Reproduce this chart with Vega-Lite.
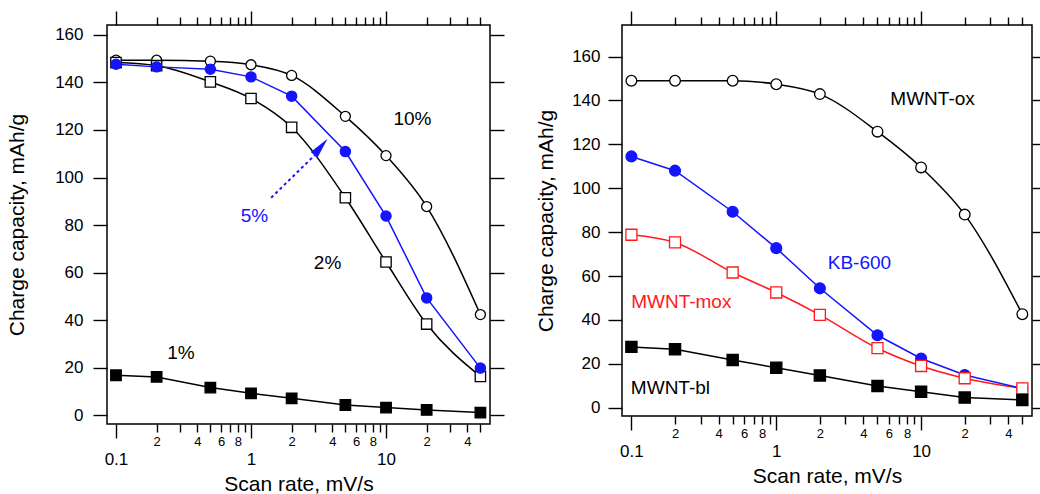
{
  "$schema": "https://vega.github.io/schema/vega-lite/v6.json",
  "background": "white",
  "padding": {"left": 5, "top": 9, "right": 5, "bottom": 5},
  "spacing": 132,
  "bounds": "flush",
  "config": {
    "font": "Liberation Sans",
    "view": {"stroke": "black", "strokeWidth": 1.5},
    "axis": {
      "grid": false, "domain": false, "tickColor": "black", "tickWidth": 1.4,
      "labelColor": "black", "titleColor": "black", "labelFont": "Liberation Sans",
      "titleFont": "Liberation Sans", "titleFontWeight": "normal", "labelFontSize": 17,
      "titleFontSize": 21, "labelOverlap": false, "labelFlush": false, "labelBound": false
    }
  },
  "datasets": {
    "left": [
      {"series": "10%", "x": 0.1, "y": 149.3}, {"series": "10%", "x": 0.2, "y": 149.3}, {"series": "10%", "x": 0.5, "y": 148.9},
      {"series": "10%", "x": 1, "y": 147.4}, {"series": "10%", "x": 2, "y": 142.9}, {"series": "10%", "x": 5, "y": 125.7},
      {"series": "10%", "x": 10, "y": 109.2}, {"series": "10%", "x": 20, "y": 87.8}, {"series": "10%", "x": 50, "y": 42.4},
      {"series": "2%", "x": 0.1, "y": 148.3}, {"series": "2%", "x": 0.2, "y": 147.0}, {"series": "2%", "x": 0.5, "y": 140.2},
      {"series": "2%", "x": 1, "y": 133.2}, {"series": "2%", "x": 2, "y": 121.1}, {"series": "2%", "x": 5, "y": 91.5},
      {"series": "2%", "x": 10, "y": 64.5}, {"series": "2%", "x": 20, "y": 38.4}, {"series": "2%", "x": 50, "y": 16.4},
      {"series": "5%", "x": 0.1, "y": 147.6}, {"series": "5%", "x": 0.2, "y": 146.5}, {"series": "5%", "x": 0.5, "y": 145.5},
      {"series": "5%", "x": 1, "y": 142.3}, {"series": "5%", "x": 2, "y": 134.2}, {"series": "5%", "x": 5, "y": 110.9},
      {"series": "5%", "x": 10, "y": 83.8}, {"series": "5%", "x": 20, "y": 49.4}, {"series": "5%", "x": 50, "y": 19.9},
      {"series": "1%", "x": 0.1, "y": 16.9}, {"series": "1%", "x": 0.2, "y": 16.2}, {"series": "1%", "x": 0.5, "y": 11.7},
      {"series": "1%", "x": 1, "y": 9.3}, {"series": "1%", "x": 2, "y": 7.2}, {"series": "1%", "x": 5, "y": 4.4},
      {"series": "1%", "x": 10, "y": 3.3}, {"series": "1%", "x": 20, "y": 2.3}, {"series": "1%", "x": 50, "y": 1.2}
    ],
    "right": [
      {"series": "MWNT-ox", "x": 0.1, "y": 149.0}, {"series": "MWNT-ox", "x": 0.2, "y": 149.0}, {"series": "MWNT-ox", "x": 0.5, "y": 149.0},
      {"series": "MWNT-ox", "x": 1, "y": 147.4}, {"series": "MWNT-ox", "x": 2, "y": 142.9}, {"series": "MWNT-ox", "x": 5, "y": 125.8},
      {"series": "MWNT-ox", "x": 10, "y": 109.5}, {"series": "MWNT-ox", "x": 20, "y": 88.0}, {"series": "MWNT-ox", "x": 50, "y": 42.6},
      {"series": "KB-600", "x": 0.1, "y": 114.5}, {"series": "KB-600", "x": 0.2, "y": 108.0}, {"series": "KB-600", "x": 0.5, "y": 89.3},
      {"series": "KB-600", "x": 1, "y": 72.7}, {"series": "KB-600", "x": 2, "y": 54.4}, {"series": "KB-600", "x": 5, "y": 33.0},
      {"series": "KB-600", "x": 10, "y": 22.4}, {"series": "KB-600", "x": 20, "y": 14.9}, {"series": "KB-600", "x": 50, "y": 8.7},
      {"series": "MWNT-mox", "x": 0.1, "y": 78.8}, {"series": "MWNT-mox", "x": 0.2, "y": 75.3}, {"series": "MWNT-mox", "x": 0.5, "y": 61.6},
      {"series": "MWNT-mox", "x": 1, "y": 52.5}, {"series": "MWNT-mox", "x": 2, "y": 42.3}, {"series": "MWNT-mox", "x": 5, "y": 27.1},
      {"series": "MWNT-mox", "x": 10, "y": 19.0}, {"series": "MWNT-mox", "x": 20, "y": 13.4}, {"series": "MWNT-mox", "x": 50, "y": 8.8},
      {"series": "MWNT-bl", "x": 0.1, "y": 27.7}, {"series": "MWNT-bl", "x": 0.2, "y": 26.6}, {"series": "MWNT-bl", "x": 0.5, "y": 21.7},
      {"series": "MWNT-bl", "x": 1, "y": 18.2}, {"series": "MWNT-bl", "x": 2, "y": 14.7}, {"series": "MWNT-bl", "x": 5, "y": 9.9},
      {"series": "MWNT-bl", "x": 10, "y": 7.2}, {"series": "MWNT-bl", "x": 20, "y": 4.6}, {"series": "MWNT-bl", "x": 50, "y": 3.5}
    ],
    "leftLabels": [
      {"series": "10%", "label": "10%", "x": 15.7, "y": 124.8},
      {"series": "5%", "label": "5%", "x": 1.06, "y": 83.9},
      {"series": "2%", "label": "2%", "x": 3.69, "y": 64.1},
      {"series": "1%", "label": "1%", "x": 0.303, "y": 26.2}
    ],
    "rightLabels": [
      {"series": "MWNT-ox", "label": "MWNT-ox", "x": 12.0, "y": 140.6},
      {"series": "KB-600", "label": "KB-600", "x": 3.75, "y": 66.1},
      {"series": "MWNT-mox", "label": "MWNT-mox", "x": 0.221, "y": 48.2},
      {"series": "MWNT-bl", "label": "MWNT-bl", "x": 0.186, "y": 9.1}
    ],
    "arrow": [
      {"x": 1.41, "y": 91.5, "x2": 2.99, "y2": 109.6, "hx": 3.69, "hy": 116.3}
    ]
  },
  "hconcat": [
    {
      "width": 383,
      "height": 399,
      "resolve": {"axis": {"x": "independent", "y": "independent"}},
      "layer": [
        {
          "data": {"name": "left"},
          "transform": [{"filter": "datum.series == '10%' || datum.series == '2%'"}],
          "mark": {"type": "line", "interpolate": "monotone", "strokeWidth": 1.5},
          "encoding": {
            "x": {"field": "x", "type": "quantitative", "scale": {"type": "log", "domain": [0.0858, 58.9], "nice": false},
              "axis": {"orient": "bottom", "values": [0.1, 1, 10], "format": "~g", "tickSize": 14, "labelPadding": 13, "title": "Scan rate, mV/s", "titlePadding": 6}},
            "y": {"field": "y", "type": "quantitative", "scale": {"domain": [-3.6, 164.1], "nice": false, "zero": false},
              "axis": {"orient": "left", "values": [0, 20, 40, 60, 80, 100, 120, 140, 160], "tickSize": 14, "labelPadding": 10, "title": "Charge capacity, mAh/g", "titlePadding": 27}},
            "color": {"field": "series", "type": "nominal", "legend": null,
              "scale": {"domain": ["10%", "5%", "2%", "1%", "MWNT-ox", "KB-600", "MWNT-mox", "MWNT-bl"],
                "range": ["black", "#1414ff", "black", "black", "black", "#1414ff", "#ff1a1a", "black"]}}
          }
        },
        {
          "data": {"name": "left"},
          "transform": [{"filter": "datum.series == '5%' || datum.series == '1%'"}],
          "mark": {"type": "line", "strokeWidth": 1.5},
          "encoding": {
            "x": {"field": "x", "type": "quantitative", "scale": {"type": "log", "domain": [0.0858, 58.9], "nice": false}, "axis": null},
            "y": {"field": "y", "type": "quantitative", "scale": {"domain": [-3.6, 164.1], "nice": false, "zero": false}, "axis": null},
            "color": {"field": "series", "type": "nominal", "legend": null,
              "scale": {"domain": ["10%", "5%", "2%", "1%", "MWNT-ox", "KB-600", "MWNT-mox", "MWNT-bl"],
                "range": ["black", "#1414ff", "black", "black", "black", "#1414ff", "#ff1a1a", "black"]}}
          }
        },
        {
          "data": {"name": "left"},
          "mark": {"type": "point", "opacity": 1, "strokeWidth": 1.3},
          "encoding": {
            "x": {"field": "x", "type": "quantitative", "scale": {"type": "log", "domain": [0.0858, 58.9], "nice": false},
              "axis": {"orient": "bottom", "values": [0.2, 0.3, 0.4, 0.5, 0.6, 0.7, 0.8, 0.9, 2, 3, 4, 5, 6, 7, 8, 9, 20, 30, 40, 50], "tickSize": 8, "labelPadding": 3, "labelFontSize": 13, "title": null,
                "labelExpr": "indexof([0.2,2,20],datum.value)>=0?'2':indexof([0.4,4,40],datum.value)>=0?'4':indexof([0.6,6],datum.value)>=0?'6':indexof([0.8,8],datum.value)>=0?'8':''"}},
            "y": {"field": "y", "type": "quantitative", "scale": {"domain": [-3.6, 164.1], "nice": false, "zero": false},
              "axis": {"orient": "right", "values": [0, 20, 40, 60, 80, 100, 120, 140, 160], "tickSize": 14, "labels": false, "title": null}},
            "shape": {"field": "series", "type": "nominal", "legend": null,
              "scale": {"domain": ["10%", "5%", "2%", "1%", "MWNT-ox", "KB-600", "MWNT-mox", "MWNT-bl"],
                "range": ["circle", "circle", "square", "square", "circle", "circle", "square", "square"]}},
            "stroke": {"field": "series", "type": "nominal", "legend": null,
              "scale": {"domain": ["10%", "5%", "2%", "1%", "MWNT-ox", "KB-600", "MWNT-mox", "MWNT-bl"],
                "range": ["black", "#1414ff", "black", "black", "black", "#1414ff", "#ff1a1a", "black"]}},
            "fill": {"field": "series", "type": "nominal", "legend": null,
              "scale": {"domain": ["10%", "5%", "2%", "1%", "MWNT-ox", "KB-600", "MWNT-mox", "MWNT-bl"],
                "range": ["white", "#1414ff", "white", "black", "white", "#1414ff", "white", "black"]}},
            "size": {"field": "series", "type": "nominal", "legend": null,
              "scale": {"domain": ["10%", "5%", "2%", "1%", "MWNT-ox", "KB-600", "MWNT-mox", "MWNT-bl"],
                "range": [100, 125, 100, 144, 100, 125, 100, 144]}}
          }
        },
        {
          "data": {"name": "leftLabels"},
          "mark": {"type": "text", "fontSize": 19, "font": "Liberation Sans"},
          "encoding": {
            "x": {"field": "x", "type": "quantitative", "scale": {"type": "log", "domain": [0.0858, 58.9], "nice": false},
              "axis": {"orient": "top", "values": [0.1, 1, 10], "tickSize": 14, "labels": false, "title": null}},
            "y": {"field": "y", "type": "quantitative", "scale": {"domain": [-3.6, 164.1], "nice": false, "zero": false}, "axis": null},
            "text": {"field": "label", "type": "nominal"},
            "color": {"field": "series", "type": "nominal", "legend": null,
              "scale": {"domain": ["10%", "5%", "2%", "1%", "MWNT-ox", "KB-600", "MWNT-mox", "MWNT-bl"],
                "range": ["black", "#1414ff", "black", "black", "black", "#1414ff", "#ff1a1a", "black"]}}
          }
        },
        {
          "data": {"name": "arrow"},
          "mark": {"type": "rule", "color": "#1414ff", "strokeWidth": 2, "strokeDash": [3, 3]},
          "encoding": {
            "x": {"field": "x", "type": "quantitative", "scale": {"type": "log", "domain": [0.0858, 58.9], "nice": false},
              "axis": {"orient": "top", "values": [0.2, 0.3, 0.4, 0.5, 0.6, 0.7, 0.8, 0.9, 2, 3, 4, 5, 6, 7, 8, 9, 20, 30, 40, 50], "tickSize": 8, "labels": false, "title": null}},
            "y": {"field": "y", "type": "quantitative", "scale": {"domain": [-3.6, 164.1], "nice": false, "zero": false}, "axis": null},
            "x2": {"field": "x2"},
            "y2": {"field": "y2"}
          }
        },
        {
          "data": {"name": "arrow"},
          "mark": {"type": "point", "shape": "M0,0L0.22,1.05L-0.22,1.05Z", "angle": 40, "size": 1600, "filled": true, "opacity": 1, "color": "#1414ff", "strokeWidth": 0},
          "encoding": {
            "x": {"field": "hx", "type": "quantitative", "scale": {"type": "log", "domain": [0.0858, 58.9], "nice": false}, "axis": null},
            "y": {"field": "hy", "type": "quantitative", "scale": {"domain": [-3.6, 164.1], "nice": false, "zero": false}, "axis": null}
          }
        }
      ]
    },
    {
      "width": 410,
      "height": 391,
      "resolve": {"axis": {"x": "independent", "y": "independent"}},
      "layer": [
        {
          "data": {"name": "right"},
          "transform": [{"filter": "datum.series == 'MWNT-ox' || datum.series == 'MWNT-mox'"}],
          "mark": {"type": "line", "interpolate": "monotone", "strokeWidth": 1.5},
          "encoding": {
            "x": {"field": "x", "type": "quantitative", "scale": {"type": "log", "domain": [0.0861, 58.3], "nice": false},
              "axis": {"orient": "bottom", "values": [0.1, 1, 10], "format": "~g", "tickSize": 14, "labelPadding": 13, "title": "Scan rate, mV/s", "titlePadding": 6}},
            "y": {"field": "y", "type": "quantitative", "scale": {"domain": [-3.8, 174.4], "nice": false, "zero": false},
              "axis": {"orient": "left", "values": [0, 20, 40, 60, 80, 100, 120, 140, 160], "tickSize": 14, "labelPadding": 8, "title": "Charge capacity, mAh/g", "titlePadding": 15}},
            "color": {"field": "series", "type": "nominal", "legend": null,
              "scale": {"domain": ["10%", "5%", "2%", "1%", "MWNT-ox", "KB-600", "MWNT-mox", "MWNT-bl"],
                "range": ["black", "#1414ff", "black", "black", "black", "#1414ff", "#ff1a1a", "black"]}}
          }
        },
        {
          "data": {"name": "right"},
          "transform": [{"filter": "datum.series == 'KB-600' || datum.series == 'MWNT-bl'"}],
          "mark": {"type": "line", "strokeWidth": 1.5},
          "encoding": {
            "x": {"field": "x", "type": "quantitative", "scale": {"type": "log", "domain": [0.0861, 58.3], "nice": false}, "axis": null},
            "y": {"field": "y", "type": "quantitative", "scale": {"domain": [-3.8, 174.4], "nice": false, "zero": false}, "axis": null},
            "color": {"field": "series", "type": "nominal", "legend": null,
              "scale": {"domain": ["10%", "5%", "2%", "1%", "MWNT-ox", "KB-600", "MWNT-mox", "MWNT-bl"],
                "range": ["black", "#1414ff", "black", "black", "black", "#1414ff", "#ff1a1a", "black"]}}
          }
        },
        {
          "data": {"name": "right"},
          "mark": {"type": "point", "opacity": 1, "strokeWidth": 1.3},
          "encoding": {
            "x": {"field": "x", "type": "quantitative", "scale": {"type": "log", "domain": [0.0861, 58.3], "nice": false},
              "axis": {"orient": "bottom", "values": [0.2, 0.3, 0.4, 0.5, 0.6, 0.7, 0.8, 0.9, 2, 3, 4, 5, 6, 7, 8, 9, 20, 30, 40, 50], "tickSize": 8, "labelPadding": 3, "labelFontSize": 13, "title": null,
                "labelExpr": "indexof([0.2,2,20],datum.value)>=0?'2':indexof([0.4,4,40],datum.value)>=0?'4':indexof([0.6,6],datum.value)>=0?'6':indexof([0.8,8],datum.value)>=0?'8':''"}},
            "y": {"field": "y", "type": "quantitative", "scale": {"domain": [-3.8, 174.4], "nice": false, "zero": false},
              "axis": {"orient": "right", "values": [0, 20, 40, 60, 80, 100, 120, 140, 160], "tickSize": 14, "labels": false, "title": null}},
            "shape": {"field": "series", "type": "nominal", "legend": null,
              "scale": {"domain": ["10%", "5%", "2%", "1%", "MWNT-ox", "KB-600", "MWNT-mox", "MWNT-bl"],
                "range": ["circle", "circle", "square", "square", "circle", "circle", "square", "square"]}},
            "stroke": {"field": "series", "type": "nominal", "legend": null,
              "scale": {"domain": ["10%", "5%", "2%", "1%", "MWNT-ox", "KB-600", "MWNT-mox", "MWNT-bl"],
                "range": ["black", "#1414ff", "black", "black", "black", "#1414ff", "#ff1a1a", "black"]}},
            "fill": {"field": "series", "type": "nominal", "legend": null,
              "scale": {"domain": ["10%", "5%", "2%", "1%", "MWNT-ox", "KB-600", "MWNT-mox", "MWNT-bl"],
                "range": ["white", "#1414ff", "white", "black", "white", "#1414ff", "white", "black"]}},
            "size": {"field": "series", "type": "nominal", "legend": null,
              "scale": {"domain": ["10%", "5%", "2%", "1%", "MWNT-ox", "KB-600", "MWNT-mox", "MWNT-bl"],
                "range": [100, 125, 100, 144, 100, 125, 100, 144]}}
          }
        },
        {
          "data": {"name": "rightLabels"},
          "transform": [{"filter": "datum.series == 'MWNT-ox' || datum.series == 'MWNT-bl'"}],
          "mark": {"type": "text", "fontSize": 19, "font": "Liberation Sans"},
          "encoding": {
            "x": {"field": "x", "type": "quantitative", "scale": {"type": "log", "domain": [0.0861, 58.3], "nice": false},
              "axis": {"orient": "top", "values": [0.1, 1, 10], "tickSize": 14, "labels": false, "title": null}},
            "y": {"field": "y", "type": "quantitative", "scale": {"domain": [-3.8, 174.4], "nice": false, "zero": false}, "axis": null},
            "text": {"field": "label", "type": "nominal"},
            "color": {"field": "series", "type": "nominal", "legend": null,
              "scale": {"domain": ["10%", "5%", "2%", "1%", "MWNT-ox", "KB-600", "MWNT-mox", "MWNT-bl"],
                "range": ["black", "#1414ff", "black", "black", "black", "#1414ff", "#ff1a1a", "black"]}}
          }
        },
        {
          "data": {"name": "rightLabels"},
          "transform": [{"filter": "datum.series == 'KB-600' || datum.series == 'MWNT-mox'"}],
          "mark": {"type": "text", "fontSize": 19, "font": "Liberation Sans"},
          "encoding": {
            "x": {"field": "x", "type": "quantitative", "scale": {"type": "log", "domain": [0.0861, 58.3], "nice": false},
              "axis": {"orient": "top", "values": [0.2, 0.3, 0.4, 0.5, 0.6, 0.7, 0.8, 0.9, 2, 3, 4, 5, 6, 7, 8, 9, 20, 30, 40, 50], "tickSize": 8, "labels": false, "title": null}},
            "y": {"field": "y", "type": "quantitative", "scale": {"domain": [-3.8, 174.4], "nice": false, "zero": false}, "axis": null},
            "text": {"field": "label", "type": "nominal"},
            "color": {"field": "series", "type": "nominal", "legend": null,
              "scale": {"domain": ["10%", "5%", "2%", "1%", "MWNT-ox", "KB-600", "MWNT-mox", "MWNT-bl"],
                "range": ["black", "#1414ff", "black", "black", "black", "#1414ff", "#ff1a1a", "black"]}}
          }
        }
      ]
    }
  ]
}
